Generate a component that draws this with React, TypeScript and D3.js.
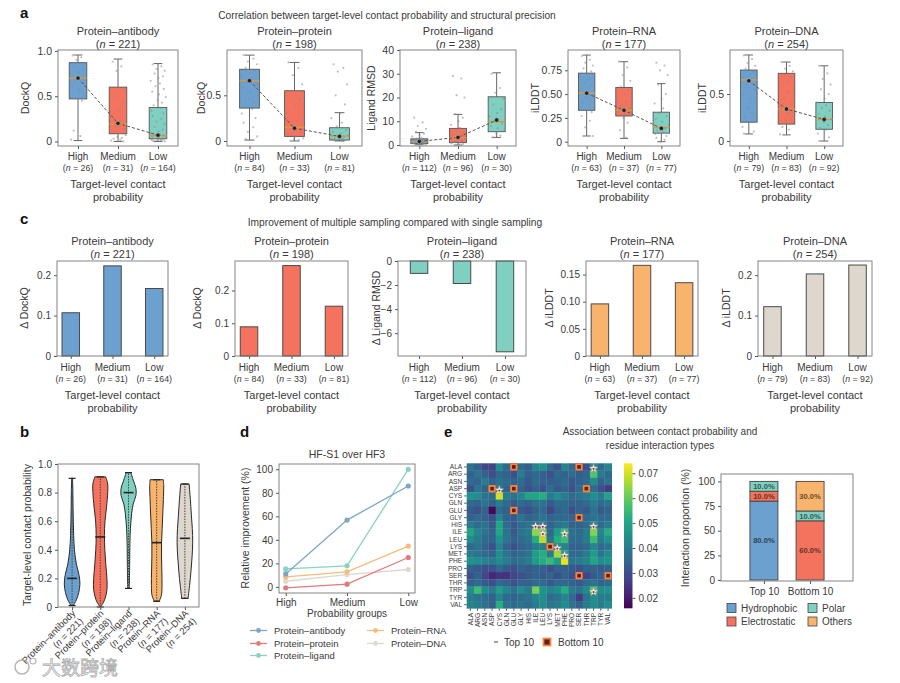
import React, { useRef, useEffect } from 'react';
import * as d3 from 'd3';

const W = 900;
const H = 683;
const FONT = '"Liberation Sans", Arial, sans-serif';
const INK = '#3a3a3a';
const FRAME = '#777';

// shared categories
const GROUPS = ['High', 'Medium', 'Low'];
const COMPLEXES = ['Protein–antibody', 'Protein–protein', 'Protein–ligand', 'Protein–RNA', 'Protein–DNA'];
const COMPLEX_N = [221, 198, 238, 177, 254];
const GROUP_N = [
  [26, 31, 164],
  [84, 33, 81],
  [112, 96, 30],
  [63, 37, 77],
  [79, 83, 92],
];
const GROUP_COLORS = ['#6ca0cf', '#f3735f', '#80d0c1'];
const COMPLEX_COLORS = ['#6ca0cf', '#f3735f', '#80d0c1', '#f8b46c', '#ddd7ce'];

// panel a: [lower whisker, q1, median, q3, upper whisker] per group
const BOX_ANTIBODY = [[0.01, 0.47, 0.7, 0.87, 0.955], [0.0, 0.085, 0.19, 0.6, 0.91], [0.0, 0.03, 0.067, 0.375, 0.86]];
const BOX_PROTEIN = [[0.01, 0.36, 0.66, 0.785, 0.94], [0.0, 0.05, 0.15, 0.55, 0.86], [0.0, 0.01, 0.055, 0.145, 0.31]];
const BOX_LIGAND = [[0.1, 0.6, 1.4, 2.6, 5.2], [0.0, 1.0, 3.0, 7.0, 12.9], [3.2, 5.6, 9.8, 20.3, 30.4]];
const BOX_RNA = [[0.06, 0.33, 0.51, 0.72, 0.91], [0.035, 0.27, 0.33, 0.57, 0.84], [0.0, 0.09, 0.15, 0.31, 0.61]];
const BOX_DNA = [[0.075, 0.2, 0.65, 0.755, 0.915], [0.065, 0.18, 0.34, 0.72, 0.84], [0.0, 0.125, 0.23, 0.41, 0.8]];

const MEAN_ANTIBODY = [0.7, 0.2, 0.07];
const MEAN_PROTEIN = [0.66, 0.14, 0.05];
const MEAN_LIGAND = [1.5, 3.2, 10.5];
const MEAN_RNA = [0.51, 0.33, 0.14];
const MEAN_DNA = [0.64, 0.34, 0.23];

// individual targets shown over the boxes
const PTS_ANTIBODY = [
  [0.95, 0.93, 0.9, 0.86, 0.83, 0.8, 0.76, 0.73, 0.71, 0.68, 0.65, 0.61, 0.57, 0.52, 0.48, 0.45, 0.12, 0.06, 0.02],
  [0.88, 0.83, 0.78, 0.57, 0.5, 0.42, 0.35, 0.28, 0.22, 0.18, 0.14, 0.11, 0.09, 0.07, 0.05, 0.04, 0.03, 0.02, 0.01, 0.0],
  [0.85, 0.83, 0.8, 0.78, 0.75, 0.72, 0.7, 0.67, 0.64, 0.61, 0.58, 0.55, 0.52, 0.49, 0.46, 0.43, 0.4, 0.37, 0.34, 0.31, 0.28, 0.25, 0.22, 0.19, 0.16, 0.13, 0.11, 0.09, 0.08, 0.07, 0.06, 0.05, 0.05, 0.04, 0.04, 0.03, 0.03, 0.02, 0.02, 0.02, 0.01, 0.01, 0.01, 0.0, 0.0],
];
const PTS_PROTEIN = [
  [0.94, 0.9, 0.87, 0.84, 0.8, 0.77, 0.74, 0.71, 0.68, 0.65, 0.62, 0.58, 0.54, 0.5, 0.46, 0.42, 0.38, 0.35, 0.3, 0.25, 0.2, 0.15, 0.1, 0.05, 0.02],
  [0.86, 0.8, 0.72, 0.62, 0.54, 0.46, 0.38, 0.3, 0.22, 0.16, 0.12, 0.08, 0.05, 0.03, 0.02, 0.01],
  [0.84, 0.8, 0.76, 0.62, 0.5, 0.4, 0.3, 0.25, 0.2, 0.16, 0.12, 0.1, 0.08, 0.06, 0.05, 0.04, 0.03, 0.02, 0.02, 0.01, 0.01, 0.0],
];
const PTS_LIGAND = [
  [11.5, 9.5, 8, 6.8, 5.5, 4.8, 4.2, 3.6, 3.1, 2.7, 2.3, 2.0, 1.8, 1.6, 1.4, 1.2, 1.0, 0.9, 0.8, 0.6, 0.5, 0.4, 0.3, 0.2],
  [29, 28, 21, 20, 13, 11.5, 10, 8.5, 7.2, 6, 5, 4.2, 3.5, 2.8, 2.2, 1.8, 1.4, 1, 0.7, 0.4],
  [30, 24, 22, 19.5, 17, 15, 13.5, 12, 10.5, 10, 9, 8, 7, 6, 5, 4, 3.2],
];
const PTS_RNA = [
  [0.9, 0.86, 0.83, 0.8, 0.77, 0.74, 0.71, 0.68, 0.65, 0.62, 0.59, 0.56, 0.53, 0.5, 0.47, 0.44, 0.41, 0.38, 0.35, 0.31, 0.27, 0.22, 0.15, 0.06],
  [0.84, 0.78, 0.7, 0.64, 0.58, 0.54, 0.5, 0.46, 0.42, 0.38, 0.35, 0.32, 0.3, 0.28, 0.25, 0.2, 0.12, 0.04],
  [0.83, 0.8, 0.75, 0.7, 0.6, 0.5, 0.45, 0.4, 0.35, 0.3, 0.27, 0.24, 0.21, 0.18, 0.16, 0.14, 0.12, 0.1, 0.08, 0.06, 0.04, 0.02, 0.0],
];
const PTS_DNA = [
  [0.91, 0.87, 0.83, 0.8, 0.77, 0.74, 0.71, 0.68, 0.65, 0.6, 0.55, 0.5, 0.45, 0.4, 0.35, 0.3, 0.25, 0.2, 0.15, 0.1, 0.08],
  [0.84, 0.8, 0.77, 0.74, 0.71, 0.68, 0.64, 0.58, 0.52, 0.46, 0.4, 0.34, 0.3, 0.26, 0.22, 0.18, 0.15, 0.12, 0.07],
  [0.8, 0.72, 0.66, 0.6, 0.55, 0.5, 0.45, 0.41, 0.38, 0.35, 0.32, 0.29, 0.26, 0.23, 0.2, 0.17, 0.14, 0.12, 0.08, 0.04, 0.0],
];
// fixed horizontal spread for the strip points (fraction of half box width)
const JITTER = [-0.55, 0.35, -0.15, 0.7, -0.35, 0.5, 0.05, -0.75, 0.2, -0.25, 0.6, -0.6, 0.1, 0.8, -0.05, 0.4, -0.45, 0.25, -0.7, 0.55];

// panel c: multi-sampling gain per group
const DELTA_ANTIBODY = [0.107, 0.223, 0.167];
const DELTA_PROTEIN = [0.089, 0.276, 0.152];
const DELTA_LIGAND = [-1.03, -1.87, -7.55];
const DELTA_RNA = [0.096, 0.167, 0.135];
const DELTA_DNA = [0.122, 0.203, 0.225];

// panel b: violin outlines as [probability, relative half width]
const VIOLIN_ANTIBODY = [[0.01, 0.15], [0.05, 0.55], [0.1, 0.85], [0.16, 1.0], [0.22, 0.9], [0.3, 0.55], [0.4, 0.3], [0.5, 0.2], [0.6, 0.15], [0.7, 0.12], [0.8, 0.1], [0.9, 0.06]];
const VIOLIN_PROTEIN = [[0.0, 0.05], [0.05, 0.55], [0.12, 0.85], [0.2, 0.85], [0.3, 0.7], [0.4, 0.58], [0.5, 0.53], [0.6, 0.6], [0.7, 0.8], [0.8, 0.95], [0.86, 0.95], [0.91, 0.7]];
const VIOLIN_LIGAND = [[0.13, 0.1], [0.3, 0.15], [0.45, 0.18], [0.55, 0.25], [0.65, 0.4], [0.72, 0.6], [0.78, 0.95], [0.83, 0.95], [0.88, 0.65], [0.94, 0.3]];
const VIOLIN_RNA = [[0.04, 0.3], [0.08, 0.6], [0.15, 0.68], [0.25, 0.66], [0.35, 0.62], [0.45, 0.62], [0.55, 0.7], [0.65, 0.78], [0.75, 0.85], [0.84, 0.9], [0.89, 0.85]];
const VIOLIN_DNA = [[0.06, 0.4], [0.15, 0.6], [0.25, 0.78], [0.35, 0.92], [0.45, 1.0], [0.55, 0.95], [0.65, 0.82], [0.75, 0.7], [0.82, 0.6], [0.86, 0.55]];
const VIOLIN_MEDIAN = [0.2, 0.49, 0.8, 0.45, 0.48];
const VIOLIN_RANGE = [[0.01, 0.9], [0.0, 0.91], [0.13, 0.94], [0.04, 0.89], [0.06, 0.86]];

// panel d: relative improvement of HF-S1 over HF3 (%)
const REL_ANTIBODY = [11, 56.8, 85.8];
const REL_PROTEIN = [-0.8, 2.3, 25];
const REL_LIGAND = [15.3, 17.9, 100];
const REL_RNA = [8.5, 12.8, 34.7];
const REL_DNA = [4.8, 10.5, 14.8];
const LINE_COLORS = ['#7fa5c4', '#e07b7b', '#8ad2c3', '#f6bc7c', '#ddd8d2'];

// panel e: residue pair contact proportion (x 1e-3)
const RESIDUES = ['ALA', 'ARG', 'ASN', 'ASP', 'CYS', 'GLN', 'GLU', 'GLY', 'HIS', 'ILE', 'LEU', 'LYS', 'MET', 'PHE', 'PRO', 'SER', 'THR', 'TRP', 'TYR', 'VAL'];
const CONTACT_MILLI = [
  [38, 34, 28, 28, 44, 36, 20, 36, 33, 42, 45, 36, 31, 42, 36, 20, 30, 45, 36, 42],
  [34, 38, 34, 30, 36, 34, 30, 40, 34, 36, 34, 30, 36, 34, 36, 33, 35, 58, 40, 36],
  [36, 34, 40, 34, 38, 36, 34, 36, 32, 36, 34, 33, 34, 36, 32, 34, 36, 44, 34, 38],
  [30, 38, 34, 20, 40, 34, 20, 34, 30, 34, 30, 36, 32, 34, 30, 36, 20, 36, 30, 26],
  [46, 44, 38, 36, 70, 40, 38, 42, 50, 50, 52, 40, 44, 40, 36, 38, 40, 44, 40, 50],
  [36, 34, 38, 34, 40, 36, 32, 36, 34, 38, 38, 32, 36, 36, 34, 34, 36, 40, 36, 38],
  [32, 30, 34, 17, 36, 34, 20, 32, 30, 34, 36, 28, 34, 36, 30, 34, 32, 38, 32, 34],
  [34, 36, 34, 30, 42, 34, 32, 38, 34, 36, 38, 34, 36, 36, 34, 20, 36, 38, 36, 36],
  [40, 36, 38, 32, 50, 36, 32, 36, 38, 40, 40, 34, 38, 40, 34, 34, 36, 44, 36, 40],
  [50, 42, 38, 34, 50, 38, 32, 38, 40, 64, 62, 36, 48, 56, 38, 36, 40, 63, 42, 52],
  [44, 40, 36, 34, 46, 38, 34, 36, 38, 52, 68, 38, 52, 56, 36, 36, 40, 56, 40, 46],
  [36, 38, 34, 30, 42, 34, 30, 34, 36, 40, 40, 20, 44, 42, 34, 34, 36, 42, 36, 38],
  [40, 38, 36, 34, 44, 38, 34, 36, 38, 48, 52, 40, 66, 50, 36, 36, 40, 48, 38, 44],
  [46, 44, 42, 40, 44, 40, 36, 38, 40, 48, 52, 55, 48, 72, 38, 40, 42, 50, 44, 46],
  [34, 32, 30, 30, 36, 32, 30, 34, 32, 34, 34, 30, 34, 34, 32, 30, 34, 34, 32, 34],
  [30, 34, 28, 22, 24, 24, 28, 30, 32, 34, 32, 34, 30, 34, 30, 20, 28, 32, 34, 20],
  [34, 36, 32, 30, 36, 34, 30, 34, 34, 36, 36, 32, 36, 36, 34, 32, 36, 38, 34, 36],
  [44, 56, 44, 40, 48, 42, 38, 44, 40, 62, 46, 42, 44, 52, 40, 38, 44, 58, 44, 46],
  [40, 38, 36, 34, 42, 36, 34, 36, 38, 42, 44, 36, 38, 42, 36, 26, 38, 44, 40, 40],
  [42, 40, 38, 34, 52, 38, 36, 38, 36, 40, 44, 38, 40, 44, 38, 34, 40, 44, 40, 44],
];
const CONTACT_RANGE = [0.0158, 0.074];
const COLORBAR_TICKS = [0.02, 0.03, 0.04, 0.05, 0.06, 0.07];
const TOP10 = [
  ['ALA', 'TRP'], ['ASP', 'CYS'], ['HIS', 'ILE'], ['HIS', 'LEU'], ['HIS', 'TRP'],
  ['ILE', 'LEU'], ['ILE', 'PHE'], ['LYS', 'MET'], ['MET', 'PHE'], ['TRP', 'TRP'],
];
const BOTTOM10 = [
  ['ALA', 'GLU'], ['ALA', 'SER'], ['ASP', 'ASP'], ['ASP', 'GLU'], ['ASP', 'THR'],
  ['GLU', 'GLU'], ['GLY', 'SER'], ['LYS', 'LYS'], ['SER', 'SER'], ['SER', 'VAL'],
];
const PAIR_SETS = ['Top 10', 'Bottom 10'];
const INTERACTION_TYPES = ['Hydrophobic', 'Electrostatic', 'Polar', 'Others'];
const TYPE_COLORS = ['#6ca0cf', '#f3735f', '#80d0c1', '#f8b46c'];
const TOP10_SHARE = [80, 10, 10, 0];
const BOTTOM10_SHARE = [0, 60, 10, 30];

const fmtTick = (d: number) => (d === 0 ? '0' : String(d).replace('-', '−'));

const App = () => {
  const svgRef = useRef<SVGSVGElement>(null);

  useEffect(() => {
    const svg = d3.select(svgRef.current);
    svg.selectAll('*').remove();
    svg.append('rect').attr('width', W).attr('height', H).attr('fill', '#fff');

    const txt = (g: any, x: number, y: number, s: string, size: number, anchor = 'middle') =>
      g.append('text').attr('x', x).attr('y', y).attr('font-size', size)
        .attr('text-anchor', anchor).attr('fill', INK).text(s);

    const nText = (g: any, x: number, y: number, n: number, size: number) => {
      const t = g.append('text').attr('x', x).attr('y', y).attr('font-size', size)
        .attr('text-anchor', 'middle').attr('fill', INK);
      t.append('tspan').text('(');
      t.append('tspan').attr('font-style', 'italic').text('n');
      t.append('tspan').text(` = ${n})`);
      return t;
    };

    const vLabel = (g: any, x: number, y: number, s: string, size: number) =>
      g.append('text').attr('transform', `translate(${x},${y}) rotate(-90)`)
        .attr('text-anchor', 'middle').attr('dy', '0.35em').attr('font-size', size)
        .attr('fill', INK).text(s);

    const letter = (x: number, y: number, s: string) =>
      svg.append('text').attr('x', x).attr('y', y).attr('font-size', 15)
        .attr('font-weight', 'bold').attr('fill', '#111').text(s);

    const tidy = (ax: any, size = 10) => {
      ax.select('.domain').remove();
      ax.attr('font-family', FONT).attr('font-size', size);
      ax.selectAll('line').attr('stroke', '#555');
      ax.selectAll('text').attr('fill', INK);
    };

    const frame = (g: any, x0: number, x1: number, top: number, bottom: number) =>
      g.append('rect').attr('x', x0).attr('y', top).attr('width', x1 - x0).attr('height', bottom - top)
        .attr('fill', 'none').attr('stroke', FRAME).attr('stroke-width', 0.9);

    // ---------- panel a: box plots ----------
    letter(20, 18, 'a');
    txt(svg, 387, 19, 'Correlation between target-level contact probability and structural precision', 10.2);

    const boxPanels = [
      { x0: 58, x1: 178, domain: [-0.05, 1.01], ticks: [0, 0.5, 1], fmt: ['0', '0.5', '1.0'], yLabel: 'DockQ', yLabelX: 25, stats: BOX_ANTIBODY, means: MEAN_ANTIBODY, pts: PTS_ANTIBODY },
      { x0: 227, x1: 362, domain: [-0.055, 0.996], ticks: [0, 0.5], fmt: ['0', '0.5'], yLabel: 'DockQ', yLabelX: 201, stats: BOX_PROTEIN, means: MEAN_PROTEIN, pts: PTS_PROTEIN },
      { x0: 400, x1: 516, domain: [-0.42, 40], ticks: [0, 10, 20, 30, 40], fmt: ['0', '10', '20', '30', '40'], yLabel: 'Ligand RMSD', yLabelX: 371, stats: BOX_LIGAND, means: MEAN_LIGAND, pts: PTS_LIGAND },
      { x0: 568, x1: 680, domain: [-0.045, 0.963], ticks: [0, 0.25, 0.5, 0.75], fmt: ['0', '0.25', '0.50', '0.75'], yLabel: 'iLDDT', yLabelX: 535, stats: BOX_RNA, means: MEAN_RNA, pts: PTS_RNA },
      { x0: 730, x1: 843, domain: [-0.053, 0.968], ticks: [0, 0.5], fmt: ['0', '0.5'], yLabel: 'iLDDT', yLabelX: 702, stats: BOX_DNA, means: MEAN_DNA, pts: PTS_DNA },
    ];

    boxPanels.forEach((p, i) => {
      const top = 50;
      const bottom = 146;
      const g = svg.append('g');
      const y = d3.scaleLinear().domain(p.domain).range([bottom, top]);
      const x = d3.scalePoint().domain(GROUPS).range([p.x0, p.x1]).padding(0.5);
      const bw = x.step() * 0.44;

      GROUPS.forEach((grp, j) => {
        const [lo, q1, med, q3, hi] = p.stats[j];
        const cx = x(grp) as number;
        g.append('line').attr('x1', cx).attr('x2', cx).attr('y1', y(lo)).attr('y2', y(q1)).attr('stroke', '#666');
        g.append('line').attr('x1', cx).attr('x2', cx).attr('y1', y(q3)).attr('y2', y(hi)).attr('stroke', '#666');
        [lo, hi].forEach((v) => {
          g.append('line').attr('x1', cx - bw / 4).attr('x2', cx + bw / 4).attr('y1', y(v)).attr('y2', y(v)).attr('stroke', '#666');
        });
        g.append('rect').attr('x', cx - bw / 2).attr('y', y(q3)).attr('width', bw).attr('height', y(q1) - y(q3))
          .attr('fill', GROUP_COLORS[j]).attr('stroke', '#555').attr('stroke-width', 0.9);
        g.append('line').attr('x1', cx - bw / 2).attr('x2', cx + bw / 2).attr('y1', y(med)).attr('y2', y(med))
          .attr('stroke', '#d99a3c').attr('stroke-width', 1.4);

        p.pts[j].forEach((v, k) => {
          g.append('circle').attr('cx', cx + JITTER[k % JITTER.length] * bw * 0.55).attr('cy', y(v)).attr('r', 1.1)
            .attr('fill', '#8a8a8a').attr('opacity', 0.55);
        });
      });

      const meanLine = d3.line<number>().x((_, j) => x(GROUPS[j]) as number).y((d) => y(d));
      g.append('path').attr('d', meanLine(p.means)).attr('fill', 'none').attr('stroke', '#555')
        .attr('stroke-width', 1).attr('stroke-dasharray', '3,2');
      p.means.forEach((m, j) => {
        g.append('circle').attr('cx', x(GROUPS[j]) as number).attr('cy', y(m)).attr('r', 2.2)
          .attr('fill', '#222').attr('stroke', '#bbb').attr('stroke-width', 0.6);
      });

      const ya = g.append('g').attr('transform', `translate(${p.x0},0)`)
        .call(d3.axisLeft(y).tickValues(p.ticks).tickFormat((_, k) => p.fmt[k]).tickSize(3).tickPadding(3));
      tidy(ya, 10.5);
      const xa = g.append('g').attr('transform', `translate(0,${bottom})`)
        .call(d3.axisBottom(x).tickSize(3).tickFormat(() => ''));
      tidy(xa);
      frame(g, p.x0, p.x1, top, bottom);

      GROUPS.forEach((grp, j) => {
        txt(g, x(grp) as number, 160, grp, 10);
        nText(g, x(grp) as number, 171, GROUP_N[i][j], 8.8);
      });
      const mid = (p.x0 + p.x1) / 2;
      txt(g, mid, 35, COMPLEXES[i], 11);
      nText(g, mid, 48, COMPLEX_N[i], 11);
      txt(g, mid, 188, 'Target-level contact', 11);
      txt(g, mid, 201, 'probability', 11);
      vLabel(g, p.yLabelX, 98, p.yLabel, 10.5);
    });

    // ---------- panel c: bar charts ----------
    letter(20, 224, 'c');
    txt(svg, 395, 226, 'Improvement of multiple sampling compared with single sampling', 10.2);

    const barPanels = [
      { x0: 57, x1: 168, domain: [0, 0.235], ticks: [0, 0.1, 0.2], yLabel: 'Δ DockQ', yLabelX: 24, vals: DELTA_ANTIBODY, pad: 0.33, fmt: null },
      { x0: 235, x1: 348, domain: [0, 0.29], ticks: [0, 0.1, 0.2], yLabel: 'Δ DockQ', yLabelX: 197, vals: DELTA_PROTEIN, pad: 0.33, fmt: null },
      { x0: 398, x1: 526, domain: [-7.9, 0], ticks: [0, -2, -4, -6], yLabel: 'Δ Ligand RMSD', yLabelX: 376, vals: DELTA_LIGAND, pad: 0.49, fmt: null },
      { x0: 586, x1: 698, domain: [0, 0.175], ticks: [0, 0.05, 0.1, 0.15], yLabel: 'Δ iLDDT', yLabelX: 549, vals: DELTA_RNA, pad: 0.33, fmt: ['0', '0.05', '0.10', '0.15'] },
      { x0: 758, x1: 872, domain: [0, 0.235], ticks: [0, 0.1, 0.2], yLabel: 'Δ iLDDT', yLabelX: 726, vals: DELTA_DNA, pad: 0.34, fmt: null },
    ];

    barPanels.forEach((p, i) => {
      const top = 261;
      const bottom = 356;
      const g = svg.append('g');
      const y = d3.scaleLinear().domain(p.domain).range([bottom, top]);
      const x = d3.scalePoint().domain(GROUPS).range([p.x0, p.x1]).padding(p.pad);
      const bw = 17.5;

      p.vals.forEach((v, j) => {
        const cx = x(GROUPS[j]) as number;
        g.append('rect').attr('x', cx - bw / 2).attr('y', y(Math.max(0, v)))
          .attr('width', bw).attr('height', Math.abs(y(v) - y(0)))
          .attr('fill', COMPLEX_COLORS[i]).attr('stroke', '#4a4a4a').attr('stroke-width', 1);
      });

      const ya = g.append('g').attr('transform', `translate(${p.x0},0)`)
        .call(d3.axisLeft(y).tickValues(p.ticks)
          .tickFormat((d, k) => (p.fmt ? p.fmt[k] : fmtTick(d as number))).tickSize(3).tickPadding(3));
      tidy(ya, 10);
      const xa = g.append('g').attr('transform', `translate(0,${bottom})`)
        .call(d3.axisBottom(x).tickSize(3).tickFormat(() => ''));
      tidy(xa);
      frame(g, p.x0, p.x1, top, bottom);

      GROUPS.forEach((grp, j) => {
        txt(g, x(grp) as number, 371, grp, 10);
        nText(g, x(grp) as number, 382, GROUP_N[i][j], 8.8);
      });
      const mid = (p.x0 + p.x1) / 2;
      txt(g, mid, 245, COMPLEXES[i], 11);
      nText(g, mid, 258, COMPLEX_N[i], 11);
      txt(g, mid, 399, 'Target-level contact', 11);
      txt(g, mid, 412, 'probability', 11);
      vLabel(g, p.yLabelX, 308, p.yLabel, 10.5);
    });

    // ---------- panel b: violins ----------
    letter(20, 437, 'b');
    {
      const x0 = 58, x1 = 199, top = 464, bottom = 607;
      const g = svg.append('g');
      const y = d3.scaleLinear().domain([0, 1]).range([bottom, top]);
      const x = d3.scalePoint().domain(COMPLEXES).range([x0, x1]).padding(0.5);
      const halfMax = 7.8;
      const shapes = [VIOLIN_ANTIBODY, VIOLIN_PROTEIN, VIOLIN_LIGAND, VIOLIN_RNA, VIOLIN_DNA];

      shapes.forEach((shape, i) => {
        const cx = x(COMPLEXES[i]) as number;
        const area = d3.area<number[]>()
          .y((d) => y(d[0]))
          .x0((d) => cx - d[1] * halfMax)
          .x1((d) => cx + d[1] * halfMax)
          .curve(d3.curveCatmullRom);
        g.append('path').attr('d', area(shape)).attr('fill', COMPLEX_COLORS[i])
          .attr('stroke', '#2a2a2a').attr('stroke-width', 1);
        const [lo, hi] = VIOLIN_RANGE[i];
        g.append('line').attr('x1', cx).attr('x2', cx).attr('y1', y(lo)).attr('y2', y(hi))
          .attr('stroke', '#444').attr('stroke-width', 1).attr('stroke-dasharray', '1.5,1.2');
        [lo, hi].forEach((v) => {
          g.append('line').attr('x1', cx - 3.5).attr('x2', cx + 3.5).attr('y1', y(v)).attr('y2', y(v))
            .attr('stroke', '#222').attr('stroke-width', 1.2);
        });
        g.append('line').attr('x1', cx - 5).attr('x2', cx + 5)
          .attr('y1', y(VIOLIN_MEDIAN[i])).attr('y2', y(VIOLIN_MEDIAN[i]))
          .attr('stroke', '#222').attr('stroke-width', 1.6);
      });

      const ya = g.append('g').attr('transform', `translate(${x0},0)`)
        .call(d3.axisLeft(y).tickValues([0, 0.2, 0.4, 0.6, 0.8, 1])
          .tickFormat((d) => (d === 0 ? '0' : d3.format('.1f')(d as number))).tickSize(3).tickPadding(3));
      tidy(ya, 10);
      const xa = g.append('g').attr('transform', `translate(0,${bottom})`)
        .call(d3.axisBottom(x).tickSize(3).tickFormat(() => ''));
      tidy(xa);
      frame(g, x0, x1, top, bottom);
      vLabel(g, 27, 535, 'Target-level contact probability', 10.5);

      COMPLEXES.forEach((c, i) => {
        const t = g.append('text').attr('transform', `translate(${(x(c) as number) + 4},${614}) rotate(-45)`)
          .attr('text-anchor', 'end').attr('font-size', 9.5).attr('fill', INK);
        t.append('tspan').attr('x', 0).text(c);
        const t2 = t.append('tspan').attr('x', 0).attr('dy', '1.15em');
        t2.append('tspan').text('(');
        t2.append('tspan').attr('font-style', 'italic').text('n');
        t2.append('tspan').text(` = ${COMPLEX_N[i]})`);
      });
    }

    // ---------- panel d: relative improvement lines ----------
    letter(240, 437, 'd');
    {
      const x0 = 279, x1 = 415, top = 464, bottom = 593;
      const g = svg.append('g');
      const x = d3.scaleLinear().domain([-0.11, 2.11]).range([x0, x1]);
      const y = d3.scaleLinear().domain([-5.2, 104.5]).range([bottom, top]);
      const series = [
        { name: 'Protein–antibody', vals: REL_ANTIBODY, color: LINE_COLORS[0] },
        { name: 'Protein–protein', vals: REL_PROTEIN, color: LINE_COLORS[1] },
        { name: 'Protein–ligand', vals: REL_LIGAND, color: LINE_COLORS[2] },
        { name: 'Protein–RNA', vals: REL_RNA, color: LINE_COLORS[3] },
        { name: 'Protein–DNA', vals: REL_DNA, color: LINE_COLORS[4] },
      ];
      const line = d3.line<number>().x((_, j) => x(j)).y((d) => y(d));
      // draw DNA first so the coloured series sit on top
      [...series].reverse().forEach((s) => {
        g.append('path').attr('d', line(s.vals)).attr('fill', 'none').attr('stroke', s.color).attr('stroke-width', 1.3);
        s.vals.forEach((v, j) => {
          g.append('circle').attr('cx', x(j)).attr('cy', y(v)).attr('r', 2.6).attr('fill', s.color);
        });
      });

      const ya = g.append('g').attr('transform', `translate(${x0},0)`)
        .call(d3.axisLeft(y).tickValues([0, 20, 40, 60, 80, 100]).tickSize(3).tickPadding(3));
      tidy(ya, 10);
      const xa = g.append('g').attr('transform', `translate(0,${bottom})`)
        .call(d3.axisBottom(x).tickValues([0, 1, 2]).tickFormat((d) => GROUPS[d as number]).tickSize(3).tickPadding(3));
      tidy(xa, 10);
      frame(g, x0, x1, top, bottom);
      txt(g, 347, 458, 'HF-S1 over HF3', 10.5);
      txt(g, 347, 617, 'Probability groups', 10);
      vLabel(g, 245, 528, 'Relative improvement (%)', 10.5);

      const legendPos = [[250, 634], [250, 647], [250, 659], [367, 634], [367, 647]];
      series.forEach((s, i) => {
        const [lx, ly] = legendPos[i];
        g.append('line').attr('x1', lx).attr('x2', lx + 17).attr('y1', ly - 3.5).attr('y2', ly - 3.5)
          .attr('stroke', s.color).attr('stroke-width', 1.3);
        g.append('circle').attr('cx', lx + 8.5).attr('cy', ly - 3.5).attr('r', 2.4).attr('fill', s.color);
        txt(g, lx + 24, ly, s.name, 9.5, 'start');
      });
    }

    // ---------- panel e: heatmap + stacked bars ----------
    letter(444, 437, 'e');
    txt(svg, 660, 435, 'Association between contact probability and', 10);
    txt(svg, 660, 449, 'residue interaction types', 10);
    {
      const g = svg.append('g');
      const hx = d3.scaleBand().domain(RESIDUES).range([466.7, 611.7]);
      const hy = d3.scaleBand().domain(RESIDUES).range([463.3, 608.3]);
      const color = d3.scaleSequential(d3.interpolateViridis).domain(CONTACT_RANGE);
      const bw = hx.bandwidth();

      CONTACT_MILLI.forEach((row, r) => {
        row.forEach((v, c) => {
          g.append('rect').attr('x', hx(RESIDUES[c]) as number).attr('y', hy(RESIDUES[r]) as number)
            .attr('width', bw + 0.3).attr('height', hy.bandwidth() + 0.3).attr('fill', color(v / 1000));
        });
      });
      BOTTOM10.forEach(([r, c]) => {
        g.append('rect').attr('x', (hx(c) as number) + 0.9).attr('y', (hy(r) as number) + 0.9)
          .attr('width', bw - 1.8).attr('height', hy.bandwidth() - 1.8)
          .attr('fill', '#6a1a24').attr('stroke', '#f28a3a').attr('stroke-width', 1.8);
      });
      const star = d3.symbol().type(d3.symbolStar).size(24);
      TOP10.forEach(([r, c]) => {
        const cx = (hx(c) as number) + bw / 2;
        const cy = (hy(r) as number) + hy.bandwidth() * 0.72;
        g.append('path').attr('d', star()).attr('transform', `translate(${cx},${cy})`)
          .attr('fill', '#fff').attr('stroke', '#c98a8a').attr('stroke-width', 0.5);
        g.append('circle').attr('cx', cx).attr('cy', cy + 0.3).attr('r', 1.1).attr('fill', '#9c2a2a');
      });

      const ya = g.append('g').attr('transform', 'translate(466.7,0)')
        .call(d3.axisLeft(hy).tickSize(2.5).tickPadding(2));
      tidy(ya, 6.6);
      const xa = g.append('g').attr('transform', 'translate(0,608.3)')
        .call(d3.axisBottom(hx).tickSize(2.5).tickPadding(2));
      tidy(xa, 6.6);
      xa.selectAll('text').attr('transform', 'rotate(-90)').attr('text-anchor', 'end')
        .attr('x', -4.5).attr('y', 0).attr('dy', '0.35em');

      // colorbar
      const cbX = 624, cbW = 8.5, cbTop = 463.3, cbBottom = 608.3;
      const grad = svg.append('defs').append('linearGradient').attr('id', 'viridis-bar')
        .attr('x1', 0).attr('x2', 0).attr('y1', 1).attr('y2', 0);
      d3.range(0, 1.0001, 0.1).forEach((t) => {
        grad.append('stop').attr('offset', t).attr('stop-color', d3.interpolateViridis(t));
      });
      g.append('rect').attr('x', cbX).attr('y', cbTop).attr('width', cbW).attr('height', cbBottom - cbTop)
        .attr('fill', 'url(#viridis-bar)');
      const cy = d3.scaleLinear().domain(CONTACT_RANGE).range([cbBottom, cbTop]);
      const ca = g.append('g').attr('transform', `translate(${cbX + cbW},0)`)
        .call(d3.axisRight(cy).tickValues(COLORBAR_TICKS).tickFormat(d3.format('.2f')).tickSize(3).tickPadding(3));
      tidy(ca, 10);

      // heatmap legend
      g.append('line').attr('x1', 494).attr('x2', 498).attr('y1', 642).attr('y2', 642).attr('stroke', '#666').attr('stroke-width', 1.2);
      txt(g, 504, 645.5, 'Top 10', 10, 'start');
      g.append('rect').attr('x', 543.5).attr('y', 638.5).attr('width', 7).attr('height', 7)
        .attr('fill', '#6a1a24').attr('stroke', '#f28a3a').attr('stroke-width', 1.8);
      txt(g, 558, 645.5, 'Bottom 10', 10, 'start');
    }
    {
      const x0 = 721, x1 = 853, top = 474, bottom = 581;
      const g = svg.append('g');
      const x = d3.scalePoint().domain(PAIR_SETS).range([x0, x1]).padding(0.93);
      const y = d3.scaleLinear().domain([-1, 107.5]).range([bottom, top]);
      const rows = PAIR_SETS.map((set, i) => {
        const share = i === 0 ? TOP10_SHARE : BOTTOM10_SHARE;
        const o: any = { set };
        INTERACTION_TYPES.forEach((t, k) => { o[t] = share[k]; });
        return o;
      });
      const stacked = d3.stack().keys(INTERACTION_TYPES)(rows);
      const barW = 28;
      stacked.forEach((layer, k) => {
        layer.forEach((seg: any) => {
          const h = seg[1] - seg[0];
          if (h <= 0) return;
          const cx = x(seg.data.set) as number;
          g.append('rect').attr('x', cx - barW / 2).attr('y', y(seg[1])).attr('width', barW)
            .attr('height', y(seg[0]) - y(seg[1])).attr('fill', TYPE_COLORS[k])
            .attr('stroke', '#444').attr('stroke-width', 0.9);
          g.append('text').attr('x', cx).attr('y', y((seg[0] + seg[1]) / 2)).attr('dy', '0.35em')
            .attr('text-anchor', 'middle').attr('font-size', 7.6).attr('font-weight', 'bold')
            .attr('fill', d3.color(TYPE_COLORS[k])!.darker(2.4).formatHex())
            .text(`${h.toFixed(1)}%`);
        });
      });
      const ya = g.append('g').attr('transform', `translate(${x0},0)`)
        .call(d3.axisLeft(y).tickValues([0, 25, 50, 75, 100]).tickSize(3).tickPadding(3));
      tidy(ya, 10);
      const xa = g.append('g').attr('transform', `translate(0,${bottom})`)
        .call(d3.axisBottom(x).tickSize(3).tickPadding(4));
      tidy(xa, 10);
      frame(g, x0, x1, top, bottom);
      vLabel(g, 685, 528, 'Interaction proportion (%)', 10.5);

      const legendPos = [[727, 603.5], [727, 617], [808, 603.5], [808, 617]];
      INTERACTION_TYPES.forEach((t, k) => {
        const [lx, ly] = legendPos[k];
        g.append('rect').attr('x', lx).attr('y', ly).attr('width', 9).attr('height', 9)
          .attr('fill', TYPE_COLORS[k]).attr('stroke', '#444').attr('stroke-width', 0.8);
        txt(g, lx + 14, ly + 8.3, t, 10, 'start');
      });
    }

    // source watermark
    const wm = svg.append('g').attr('opacity', 0.85);
    wm.append('circle').attr('cx', 22).attr('cy', 667).attr('r', 7).attr('fill', 'none').attr('stroke', '#aaa').attr('stroke-width', 1.5);
    wm.append('circle').attr('cx', 33).attr('cy', 661).attr('r', 3).attr('fill', 'none').attr('stroke', '#aaa').attr('stroke-width', 1.2);
    wm.append('text').attr('x', 42).attr('y', 675).attr('font-size', 19)
      .attr('font-family', '"Noto Sans CJK SC", sans-serif').attr('fill', '#fff')
      .attr('stroke', '#a0a0a0').attr('stroke-width', 0.8).text('大数跨境');
  }, []);

  return (
    <svg
      ref={svgRef}
      width={W}
      height={H}
      style={{ position: 'absolute', left: 0, top: 0, fontFamily: FONT }}
    />
  );
};

export default App;
